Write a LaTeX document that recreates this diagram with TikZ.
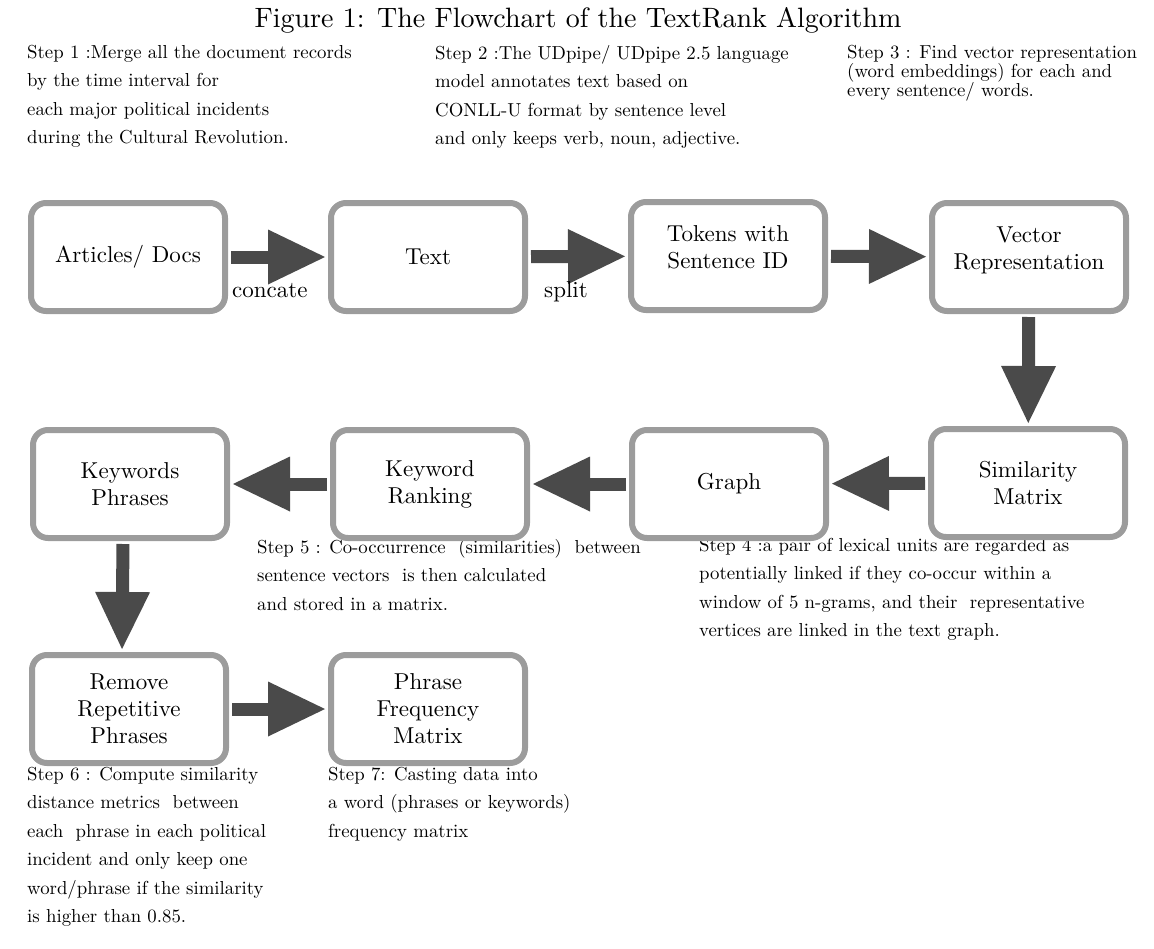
\documentclass[tikz,border=0pt]{standalone}
\usepackage{fontspec}
\setmainfont{lmroman10-regular.otf}
\usetikzlibrary{arrows.meta}
\definecolor{boxgray}{HTML}{9C9C9C}
\definecolor{arrgray}{HTML}{4A4A4A}
\newcommand{\uptext}[1]{\raisebox{6pt}[\height][\depth]{\begin{tabular}{@{}c@{}}#1\end{tabular}}}
\begin{document}
\begin{tikzpicture}[x=1pt,y=-1pt,
  box/.style={draw=boxgray, line width=6pt, rounded corners=15pt, fill=white,
    minimum width=194pt, minimum height=108pt, align=center, inner sep=0pt,
    font=\fontsize{23}{27}\selectfont},
  flow/.style={draw=arrgray, line width=13pt,
    -{Triangle[length=57pt,width=55pt,line width=0pt]},
    shorten <=3pt, shorten >=3pt},
  steptext/.style={anchor=north west, align=left, inner sep=0pt,
    font=\fontsize{18.8}{28.4}\selectfont},
  lbl/.style={anchor=base west, inner sep=0pt, font=\fontsize{23}{27}\selectfont}]
\useasboundingbox (0,0) rectangle (1154,948);

\node[anchor=base, inner sep=0pt, font=\fontsize{28}{32}\selectfont] (title) at (578,27)
  {Figure 1: The Flowchart of the TextRank Algorithm};

% step descriptions
\node[steptext] (s1) at (27,45) {Step 1 :Merge all the document records\\by the time interval for\\each major political incidents\\during the Cultural Revolution.};
\node[steptext] (s2) at (435,45) {Step 2 :The UDpipe/ UDpipe 2.5 language\\model annotates text based on\\CONLL-U format by sentence level\\and only keeps verb, noun, adjective.};
\node[steptext, font=\fontsize{18.8}{19}\selectfont] (s3) at (847,45) {Step 3 : Find vector representation\\(word embeddings) for each and\\every sentence/ words.};
\node[steptext] (s4) at (699,538) {Step 4 :a pair of lexical units are regarded as\\potentially linked if they co-occur within a\\window of 5 n-grams, and their\ \ representative\\vertices are linked in the text graph.};
\node[steptext] (s5) at (257,539) {Step 5 : Co-occurrence\ \ (similarities)\ \ between\\sentence vectors\ \ is then calculated\\and stored in a matrix.};
\node[steptext] (s6) at (27,767) {Step 6 : Compute similarity\\distance metrics\ \ between\\each\ \ phrase in each political\\incident and only keep one\\word/phrase if the similarity\\is higher than 0.85.};
\node[steptext] (s7) at (328,767) {Step 7: Casting data into\\a word (phrases or keywords)\\frequency matrix};

% boxes
\node[box] (b1) at (128,257) {Articles/ Docs};
\node[box] (b2) at (428,257) {Text};
\node[box] (b3) at (728,256) {\uptext{Tokens with\\Sentence ID}};
\node[box] (b4) at (1029,257) {\uptext{Vector\\Representation}};
\node[box] (b5) at (1028,483) {Similarity\\Matrix};
\node[box] (b6) at (729,484) {Graph};
\node[box] (b7) at (430,484) {Keyword\\Ranking};
\node[box] (b8) at (130,484) {Keywords\\Phrases};
\node[box] (b9) at (129,709) {Remove\\Repetitive\\Phrases};
\node[box] (b10) at (428,709) {Phrase\\Frequency\\Matrix};

% connectors
\draw[flow] (b1) -- (b2);
\draw[flow] (b2) -- (b3);
\draw[flow] (b3) -- (b4);
\draw[flow] (b4) -- (b5);
\draw[flow] (b5) -- (b6);
\draw[flow] (b6) -- (b7);
\draw[flow] (b7) -- (b8);
\draw[flow] ([xshift=-7pt]b8.south) -- ([xshift=-7pt]b9.north);
\draw[flow] (b9) -- (b10);

\node[lbl] (l1) at (232,297) {concate};
\node[lbl] (l2) at (544,297) {split};
\end{tikzpicture}
\end{document}
